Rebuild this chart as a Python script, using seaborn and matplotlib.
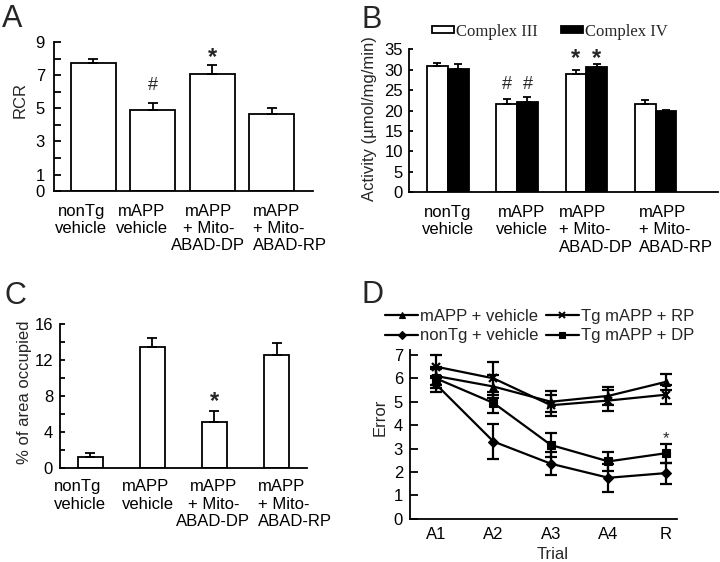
import numpy as np
import pandas as pd
import matplotlib
matplotlib.use('Agg')
import matplotlib.pyplot as plt
from matplotlib.patches import Patch
from matplotlib.lines import Line2D
from matplotlib.transforms import ScaledTranslation
import seaborn as sns

# values
groups = ['nonTg\nvehicle', 'mAPP\nvehicle', 'mAPP\n+ Mito-\nABAD-DP', 'mAPP\n+ Mito-\nABAD-RP']

# A: respiratory control ratio
rcr_mean = [7.75, 4.9, 7.1, 4.65]
rcr_err = [0.25, 0.4, 0.55, 0.4]
rcr_marks = ['', '#', '*', '']

# B: complex III / IV activity
complex3_mean = [31.0, 21.5, 29.0, 21.5]
complex3_err = [0.7, 1.3, 1.0, 1.1]
complex4_mean = [30.2, 22.2, 30.75, 20.0]
complex4_err = [1.2, 1.2, 0.65, 0.25]
activity_marks = ['', '#', '*', '']

# C: % of area occupied
area_mean = [1.3, 13.5, 5.2, 12.55]
area_err = [0.37, 1.0, 1.2, 1.4]
area_marks = ['', '', '*', '']

# D: errors per trial
trials = ['A1', 'A2', 'A3', 'A4', 'R']
mapp_vehicle = [6.1, 5.65, 5.0, 5.25, 5.85]
mapp_vehicle_err = [0.4, 0.5, 0.45, 0.4, 0.35]
tg_rp = [6.5, 6.0, 4.85, 5.05, 5.3]
tg_rp_err = [0.5, 0.7, 0.45, 0.45, 0.4]
nontg_vehicle = [5.75, 3.3, 2.35, 1.75, 1.95]
nontg_vehicle_err = [0.35, 0.75, 0.5, 0.6, 0.45]
tg_dp = [6.0, 4.95, 3.15, 2.45, 2.8]
tg_dp_err = [0.4, 0.45, 0.5, 0.4, 0.4]
trial_marks = ['', '', '', '', '*']

sns.set_style('ticks')
plt.rcParams['font.family'] = ['Liberation Sans', 'DejaVu Sans']

fig = plt.figure(figsize=(7.2, 5.62), dpi=100)
LW = 1.3


def style_axis(ax, tick_len, ypad, xpad=9):
    sns.despine(ax=ax)
    for s in ('left', 'bottom'):
        ax.spines[s].set_linewidth(LW)
        ax.spines[s].set_color('black')
    ax.tick_params(axis='y', direction='in', length=tick_len, width=LW, pad=ypad,
                   labelsize=12, colors='black')
    ax.tick_params(axis='x', length=0, pad=xpad, labelsize=12, colors='black')


def shift_labels(ax, shifts, aligns):
    # nudge the group labels sideways (pixels) the way the original is set
    for lab, dx, al in zip(ax.get_xticklabels(), shifts, aligns):
        lab.set_linespacing(1.2)
        lab.set_multialignment(al)
        lab.set_transform(lab.get_transform() + ScaledTranslation(dx / 100, 0, fig.dpi_scale_trans))


def upper_err(ax, x, means, errs, cap=3.5):
    ax.errorbar(x, means, yerr=[np.zeros(len(errs)), errs], fmt='none',
                ecolor='black', elinewidth=LW, capsize=cap, capthick=LW, zorder=3)


def mark(ax, x, y, s, offsets):
    bold = 'bold' if s == '*' else 'normal'
    size = 17 if s == '*' else 13
    ax.annotate(s, xy=(x, y), xytext=(0, offsets[s]), textcoords='offset points',
                ha='center', va='center', fontsize=size, fontweight=bold)


def bar_panel(ax, means, errs, marks, width, offsets):
    sns.barplot(x=groups, y=means, color='white', saturation=1, edgecolor='black',
                linewidth=LW, width=width, ax=ax)
    x = np.arange(len(means))
    upper_err(ax, x, means, errs)
    for xi, m, e, s in zip(x, means, errs, marks):
        if s:
            mark(ax, xi, m + e, s, offsets)


# ---- A ----
axA = fig.add_axes([0.075, 0.6601, 0.3601, 0.2646])
bar_panel(axA, rcr_mean, rcr_err, rcr_marks, 0.755, {'#': 13, '*': 4.8})
axA.set_ylim(0, 9)
axA.set_xlim(-0.658, 3.693)
axA.set_yticks(range(10))
axA.set_yticklabels(['0', '1', '', '3', '', '5', '', '7', '', '9'])
axA.set_ylabel('RCR', fontsize=12)
style_axis(axA, 4.8, 6.5)
axA.yaxis.set_label_coords(-0.10, 0.61)
shift_labels(axA, [-12, -11, -4, 18], ['center', 'center', 'center', 'left'])

# ---- B ----
axB = fig.add_axes([0.5685, 0.6578, 0.4288, 0.2544])
act = pd.DataFrame({
    'group': groups * 2,
    'complex': ['Complex III'] * 4 + ['Complex IV'] * 4,
    'value': complex3_mean + complex4_mean,
})
sns.barplot(data=act, x='group', y='value', hue='complex', palette=['white', 'black'],
            saturation=1, edgecolor='black', linewidth=LW, width=0.6, legend=False, ax=axB)
xb = np.arange(4)
upper_err(axB, xb - 0.15, complex3_mean, complex3_err, cap=3)
upper_err(axB, xb + 0.15, complex4_mean, complex4_err, cap=3)
for xi, m3, e3, m4, e4, s in zip(xb, complex3_mean, complex3_err, complex4_mean, complex4_err, activity_marks):
    if s:
        top = max(m3 + e3, m4 + e4)
        mark(axB, xi - 0.15, top, s, {'#': 9, '*': 3.8})
        mark(axB, xi + 0.15, top, s, {'#': 9, '*': 3.8})
axB.set_ylim(0, 35)
axB.set_xlim(-0.554, 3.9)
axB.set_yticks(range(0, 36, 5))
axB.set_xlabel('')
axB.set_ylabel('Activity (\u00b5mol/mg/min)', fontsize=12)
style_axis(axB, 3, 4.5)
axB.yaxis.set_label_coords(-0.105, 0.516)
shift_labels(axB, [0, 5, 10, 20], ['center', 'center', 'left', 'left'])
handles = [Patch(facecolor='white', edgecolor='black', linewidth=LW, label='Complex III'),
           Patch(facecolor='black', edgecolor='black', linewidth=LW, label='Complex IV')]
axB.legend(handles=handles, loc='center left', bbox_to_anchor=(0.0735, 1.123), ncol=2,
           frameon=False, borderpad=0, borderaxespad=0, handlelength=1.3, handleheight=0.3,
           handletextpad=0.15, columnspacing=1.4,
           prop={'family': ['Liberation Serif', 'DejaVu Serif'], 'size': 12})

# ---- C ----
axC = fig.add_axes([0.0833, 0.1667, 0.3426, 0.2562])
bar_panel(axC, area_mean, area_err, area_marks, 0.41, {'#': 13, '*': 6.3})
axC.set_ylim(0, 16)
axC.set_xlim(-0.488, 3.485)
axC.set_yticks(range(0, 17, 2))
axC.set_yticklabels(['0', '', '4', '', '8', '', '12', '', '16'])
axC.set_ylabel('% of area occupied', fontsize=12)
style_axis(axC, 3.6, 5, xpad=8)
axC.yaxis.set_label_coords(-0.113, 0.53)
shift_labels(axC, [-10, -4, -1, 18], ['left', 'left', 'center', 'left'])

# ---- D ----
axD = fig.add_axes([0.5694, 0.0770, 0.3708, 0.2998])
xd = np.arange(len(trials))
series = [
    ('mAPP + vehicle', mapp_vehicle, mapp_vehicle_err, '^'),
    ('nonTg + vehicle', nontg_vehicle, nontg_vehicle_err, 'D'),
    ('Tg mAPP + RP', tg_rp, tg_rp_err, 'x'),
    ('Tg mAPP + DP', tg_dp, tg_dp_err, 's'),
]
for name, vals, errs, mk in series:
    sns.lineplot(x=xd, y=vals, color='black', linewidth=1.6, marker=mk, markersize=5.5,
                 markeredgewidth=1.6 if mk == 'x' else 0.8, markeredgecolor='black',
                 ax=axD, legend=False)
    axD.errorbar(xd, vals, yerr=errs, fmt='none', ecolor='black', elinewidth=1.6,
                 capsize=4, capthick=1.6)
for xi, vals, errs, s in zip(xd, tg_dp, tg_dp_err, trial_marks):
    if s:
        axD.annotate(s, xy=(xi, vals + errs), xytext=(0, 3.5), textcoords='offset points',
                     ha='center', va='center', fontsize=12)
axD.set_ylim(0, 7.2)
axD.set_xlim(-0.45, 4.19)
axD.set_yticks(range(8))
axD.set_xticks(xd)
axD.set_xticklabels(trials)
axD.set_xlabel('Trial', fontsize=12)
axD.set_ylabel('Error', fontsize=12)
style_axis(axD, 5.8, 5, xpad=6)
axD.yaxis.set_label_coords(-0.082, 0.60)
axD.xaxis.set_label_coords(0.536, -0.168)
leg_handles = [Line2D([], [], color='black', linewidth=1.6, marker=mk, markersize=4,
                      markeredgewidth=1.4 if mk == 'x' else 0.8, label=name)
               for name, _, _, mk in series]
axD.legend(handles=leg_handles, loc='upper left', bbox_to_anchor=(-0.094, 1.245), ncol=2,
           frameon=False, borderpad=0, borderaxespad=0, handlelength=2.0,
           handletextpad=0.1, columnspacing=0.45, labelspacing=0.27, fontsize=12)

# panel letters
for label, (px, py) in zip('ABCD', [(2, 4), (362, 5), (5, 281), (362, 280)]):
    fig.text(px / 720, 1 - py / 562, label, fontsize=22, ha='left', va='top')

fig.savefig('out.png', dpi=100)
